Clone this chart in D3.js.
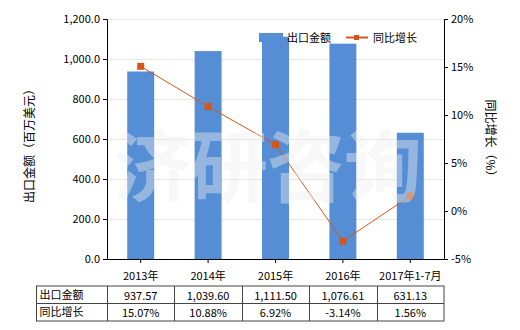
<!DOCTYPE html>
<html>
<head>
<meta charset="utf-8">
<script src="https://cdn.jsdelivr.net/npm/d3@7"></script>
<style>
  body { margin: 0; background: #fff; }
  svg text { font-family: "Noto Sans CJK SC", "DejaVu Sans", sans-serif; }
</style>
</head>
<body>
<div id="chart"></div>
<script>
var categories = ["2013年", "2014年", "2015年", "2016年", "2017年1-7月"];
var exportValues = [937.57, 1039.60, 1111.50, 1076.61, 631.13];
var growthValues = [15.07, 10.88, 6.92, -3.14, 1.56];
var exportLabels = ["937.57", "1,039.60", "1,111.50", "1,076.61", "631.13"];
var growthLabels = ["15.07%", "10.88%", "6.92%", "-3.14%", "1.56%"];
var leftTicks = [0, 200, 400, 600, 800, 1000, 1200];
var rightTicks = [-5, 0, 5, 10, 15, 20];

var svgWidth = 520;
var svgHeight = 330;
var margin = { top: 19, right: 76, bottom: 71, left: 107 };
var width = svgWidth - margin.left - margin.right;
var height = svgHeight - margin.top - margin.bottom;

var barColor = "#558ed5";
var lineColor = "#d4561c";

var svg = d3.select("#chart")
  .append("svg")
  .attr("width", svgWidth)
  .attr("height", svgHeight);

var chartGroup = svg.append("g")
  .attr("transform", `translate(${margin.left}, ${margin.top})`);

var xScale = d3.scaleBand()
  .domain(categories)
  .range([0, width])
  .paddingInner(0.6)
  .paddingOuter(0.3);

var xPoint = d => xScale(d) + xScale.bandwidth() / 2;

var yLeft = d3.scaleLinear().domain([0, 1200]).range([height, 0]);
var yRight = d3.scaleLinear().domain([-5, 20]).range([height, 0]);

// gridlines
chartGroup.append("g")
  .selectAll("line")
  .data(leftTicks.slice(1))
  .enter()
  .append("line")
  .attr("x1", 0)
  .attr("x2", width)
  .attr("y1", d => yLeft(d) + 0.5)
  .attr("y2", d => yLeft(d) + 0.5)
  .attr("stroke", "#e9e7dd")
  .attr("stroke-width", 1);

// bars
chartGroup.selectAll("rect.bar")
  .data(exportValues)
  .enter()
  .append("rect")
  .attr("class", "bar")
  .attr("x", (d, i) => xScale(categories[i]))
  .attr("y", d => yLeft(d))
  .attr("width", xScale.bandwidth())
  .attr("height", d => height - yLeft(d))
  .attr("fill", barColor);

// watermark
svg.append("g")
  .selectAll("text")
  .data(["济", "研", "咨", "询"])
  .enter()
  .append("text")
  .attr("x", (d, i) => 152 + i * 77)
  .attr("y", 196)
  .attr("text-anchor", "middle")
  .attr("font-size", 78)
  .attr("font-weight", "bold")
  .attr("fill", "#eeeeee")
  .attr("fill-opacity", 0.42)
  .text(d => d);

// line
var line = d3.line()
  .x((d, i) => xPoint(categories[i]))
  .y(d => yRight(d));

chartGroup.append("path")
  .datum(growthValues)
  .attr("d", line)
  .attr("fill", "none")
  .attr("stroke", lineColor)
  .attr("stroke-width", 1);

chartGroup.selectAll("rect.marker")
  .data(growthValues)
  .enter()
  .append("rect")
  .attr("class", "marker")
  .attr("x", (d, i) => xPoint(categories[i]) - 3.5)
  .attr("y", d => yRight(d) - 3.5)
  .attr("width", 7)
  .attr("height", 7)
  .attr("fill", lineColor);

// axes
var leftAxis = d3.axisLeft(yLeft)
  .tickValues(leftTicks)
  .tickSize(4)
  .tickFormat(d3.format(",.1f"));
var rightAxis = d3.axisRight(yRight)
  .tickValues(rightTicks)
  .tickSize(4)
  .tickFormat(d => d + "%");
var bottomAxis = d3.axisBottom(xScale).tickSize(4).tickSizeOuter(0);

function styleAxis(g) {
  g.selectAll("path, line").attr("stroke", "#000");
  g.selectAll("text").attr("font-size", 11).attr("fill", "#000");
}

chartGroup.append("g").call(leftAxis).call(styleAxis);
chartGroup.append("g")
  .attr("transform", `translate(${width}, 0)`)
  .call(rightAxis).call(styleAxis);
chartGroup.append("g")
  .attr("transform", `translate(0, ${height})`)
  .call(bottomAxis).call(styleAxis)
  .selectAll("text").attr("dy", "1.3em");

// axis titles
svg.append("text")
  .attr("transform", "translate(31, 143) rotate(-90)")
  .attr("text-anchor", "middle")
  .attr("dominant-baseline", "middle")
  .attr("font-size", 12)
  .text("出口金额（百万美元）");

svg.append("text")
  .attr("transform", "translate(489, 141) rotate(90)")
  .attr("text-anchor", "middle")
  .attr("dominant-baseline", "middle")
  .attr("font-size", 12)
  .text("同比增长（%）");

// legend
var legend = svg.append("g");
legend.append("rect")
  .attr("x", 259).attr("y", 33)
  .attr("width", 24).attr("height", 9)
  .attr("fill", barColor);
legend.append("text")
  .attr("x", 287).attr("y", 42)
  .attr("font-size", 11)
  .text("出口金额");
legend.append("line")
  .attr("x1", 346).attr("x2", 368)
  .attr("y1", 37.5).attr("y2", 37.5)
  .attr("stroke", lineColor).attr("stroke-width", 2);
legend.append("rect")
  .attr("x", 354).attr("y", 35)
  .attr("width", 5).attr("height", 5)
  .attr("fill", lineColor);
legend.append("text")
  .attr("x", 373).attr("y", 42)
  .attr("font-size", 11)
  .text("同比增长");

// data table
var tableTop = 286;
var rowH = 17.5;
var tableLeft = 36.5;
var rows = [
  { name: "出口金额", values: exportLabels },
  { name: "同比增长", values: growthLabels }
];
var table = svg.append("g");
table.append("rect")
  .attr("x", tableLeft)
  .attr("y", tableTop)
  .attr("width", margin.left + width - tableLeft)
  .attr("height", rowH * 2)
  .attr("fill", "none")
  .attr("stroke", "#444");
table.append("line")
  .attr("x1", tableLeft).attr("x2", margin.left + width)
  .attr("y1", tableTop + rowH).attr("y2", tableTop + rowH)
  .attr("stroke", "#444");
var colEdges = [0].concat(categories.map(c => xScale(c) + xScale.bandwidth() / 2 + xScale.step() / 2));
table.selectAll("line.col")
  .data(colEdges.slice(0, -1))
  .enter()
  .append("line")
  .attr("class", "col")
  .attr("x1", d => margin.left + Math.round(d) + 0.5)
  .attr("x2", d => margin.left + Math.round(d) + 0.5)
  .attr("y1", tableTop)
  .attr("y2", tableTop + rowH * 2)
  .attr("stroke", "#444");

rows.forEach(function(row, r) {
  var y = tableTop + rowH * r + rowH / 2;
  table.append("text")
    .attr("x", tableLeft + 3)
    .attr("y", y)
    .attr("dy", "0.35em")
    .attr("font-size", 11)
    .text(row.name);
  table.selectAll("text.v" + r)
    .data(row.values)
    .enter()
    .append("text")
    .attr("class", "v" + r)
    .attr("x", (d, i) => margin.left + xPoint(categories[i]))
    .attr("y", y + 1)
    .attr("dy", "0.35em")
    .attr("text-anchor", "middle")
    .attr("font-size", 11)
    .text(d => d);
});
</script>
</body>
</html>
